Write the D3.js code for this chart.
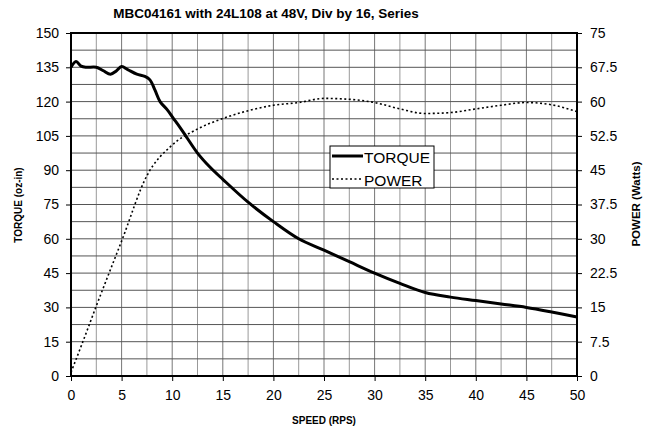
<!DOCTYPE html>
<html>
<head>
<meta charset="utf-8">
<script src="https://cdn.jsdelivr.net/npm/d3@7"></script>
<style>
  html, body { margin: 0; padding: 0; background: #fff; }
  svg { display: block; font-family: "Liberation Sans", Arial, sans-serif; }
</style>
</head>
<body>
<div id="chart"></div>
<script>
// Torque / power curve
const speedTorque = [0, 0.5, 1, 1.5, 2.5, 3.2, 3.9, 4.5, 5, 5.6, 6.5, 7.3, 7.8, 8.3, 8.8, 9.5, 10.1, 10.8, 11.4, 12.5, 13.7, 15, 17.5, 20, 22.5, 25, 27.5, 30, 32.5, 35, 37.5, 40, 42.5, 45, 47.5, 50];
const torque = [135, 137.5, 135.5, 135, 135, 133.5, 132, 133.5, 135.3, 134, 132, 131, 129.5, 125, 120, 116.5, 112.8, 108.5, 104.6, 97.5, 91.5, 86, 76, 67.5, 60, 55, 50, 45, 40.5, 36.5, 34.5, 33, 31.5, 30, 28, 25.8];

const speedPower = [0, 1, 2.5, 5, 7.5, 10, 12.5, 15, 17.5, 20, 22.5, 25, 27.5, 30, 32.5, 35, 37.5, 40, 42.5, 45, 47.5, 50];
const power = [0.8, 6.5, 15.3, 29.5, 43.8, 50.5, 54, 56.3, 58, 59.2, 59.8, 60.7, 60.5, 59.8, 58.4, 57.4, 57.6, 58.4, 59.2, 59.8, 59.3, 57.8];

const speedTicks = d3.range(0, 51, 5);
const torqueTicks = d3.range(0, 151, 15);
const powerTicks = [0, 7.5, 15, 22.5, 30, 37.5, 45, 52.5, 60, 67.5, 75];
const powerTickLabels = ["0", "7.5", "15", "22.5", "30", "37.5", "45", "52.5", "60", "67.5", "75"];

const W = 653, H = 436;
const m = { left: 71, right: 577, top: 33, bottom: 376 };

const svg = d3.select("#chart").append("svg")
  .attr("width", W).attr("height", H);

const x = d3.scaleLinear().domain([0, 50]).range([m.left, m.right]);
const yL = d3.scaleLinear().domain([0, 150]).range([m.bottom, m.top]);
const yR = d3.scaleLinear().domain([0, 75]).range([m.bottom, m.top]);

// --- Grid ---
const grid = svg.append("g").attr("class", "grid");
grid.selectAll("line.v")
  .data(d3.range(2.5, 50, 2.5))
  .join("line")
  .attr("x1", d => x(d)).attr("x2", d => x(d))
  .attr("y1", m.top).attr("y2", m.bottom)
  .attr("stroke", d => d % 5 === 0 ? "#777" : "#999")
  .attr("stroke-width", 1);
grid.selectAll("line.h")
  .data(d3.range(7.5, 150, 7.5))
  .join("line")
  .attr("x1", m.left).attr("x2", m.right)
  .attr("y1", d => yL(d)).attr("y2", d => yL(d))
  .attr("stroke", "#555")
  .attr("stroke-width", 1);

// --- Axes ---
const tickFont = (g) => g.selectAll("text")
  .attr("font-size", 14)
  .attr("font-family", "'Liberation Sans', Arial, sans-serif")
  .attr("fill", "#000");

const xAxis = svg.append("g")
  .attr("transform", `translate(0,${m.bottom})`)
  .call(d3.axisBottom(x).tickValues(speedTicks).tickSize(5).tickPadding(9).tickFormat(d3.format("d")));
xAxis.select(".domain").remove();
xAxis.selectAll("line").attr("stroke", "#000");
tickFont(xAxis);

const leftAxis = svg.append("g")
  .attr("transform", `translate(${m.left},0)`)
  .call(d3.axisLeft(yL).tickValues(torqueTicks).tickSize(5).tickPadding(7).tickFormat(d3.format("d")));
leftAxis.select(".domain").remove();
leftAxis.selectAll("line").attr("stroke", "#000");
tickFont(leftAxis);

const rightAxis = svg.append("g")
  .attr("transform", `translate(${m.right},0)`)
  .call(d3.axisRight(yR).tickValues(powerTicks).tickSize(5).tickPadding(8)
    .tickFormat((d, i) => powerTickLabels[i]));
rightAxis.select(".domain").remove();
rightAxis.selectAll("line").attr("stroke", "#000");
tickFont(rightAxis);

// --- Frame ---
svg.append("rect")
  .attr("x", m.left).attr("y", m.top)
  .attr("width", m.right - m.left).attr("height", m.bottom - m.top)
  .attr("fill", "none").attr("stroke", "#000").attr("stroke-width", 2);

// --- Lines ---
const torqueLine = d3.line()
  .x((d, i) => x(speedTorque[i]))
  .y(d => yL(d))
  .curve(d3.curveCatmullRom.alpha(0.5));
const powerLine = d3.line()
  .x((d, i) => x(speedPower[i]))
  .y(d => yR(d))
  .curve(d3.curveMonotoneX);

svg.append("path")
  .datum(power)
  .attr("d", powerLine)
  .attr("fill", "none")
  .attr("stroke", "#000")
  .attr("stroke-width", 1.6)
  .attr("stroke-dasharray", "2,2.5");

svg.append("path")
  .datum(torque)
  .attr("d", torqueLine)
  .attr("fill", "none")
  .attr("stroke", "#000")
  .attr("stroke-width", 3)
  .attr("stroke-linejoin", "round");

// --- Legend ---
const legend = svg.append("g").attr("transform", "translate(330,146)");
legend.append("rect")
  .attr("width", 104).attr("height", 42)
  .attr("fill", "#fff").attr("stroke", "#000").attr("stroke-width", 1);
legend.append("line")
  .attr("x1", 2).attr("x2", 33).attr("y1", 10).attr("y2", 10)
  .attr("stroke", "#000").attr("stroke-width", 3);
legend.append("line")
  .attr("x1", 2).attr("x2", 33).attr("y1", 33).attr("y2", 33)
  .attr("stroke", "#000").attr("stroke-width", 1.4).attr("stroke-dasharray", "2,2.5");
legend.append("text").text("TORQUE")
  .attr("x", 34).attr("y", 16.5).attr("font-size", 15.5);
legend.append("text").text("POWER")
  .attr("x", 34).attr("y", 39.5).attr("font-size", 15.5);

// --- Titles ---
svg.append("text")
  .text("MBC04161 with 24L108 at 48V, Div by 16, Series")
  .attr("x", 266).attr("y", 17.5)
  .attr("text-anchor", "middle")
  .attr("font-size", 13.5).attr("font-weight", "bold");

svg.append("text")
  .text("SPEED (RPS)")
  .attr("x", 324).attr("y", 424)
  .attr("text-anchor", "middle")
  .attr("font-size", 10).attr("font-weight", "bold");

svg.append("text")
  .text("TORQUE (oz-in)")
  .attr("transform", "translate(22,205) rotate(-90)")
  .attr("text-anchor", "middle")
  .attr("font-size", 10).attr("font-weight", "bold");

svg.append("text")
  .text("POWER (Watts)")
  .attr("transform", "translate(640,204) rotate(-90)")
  .attr("text-anchor", "middle")
  .attr("font-size", 11.5).attr("font-weight", "bold");
</script>
</body>
</html>
